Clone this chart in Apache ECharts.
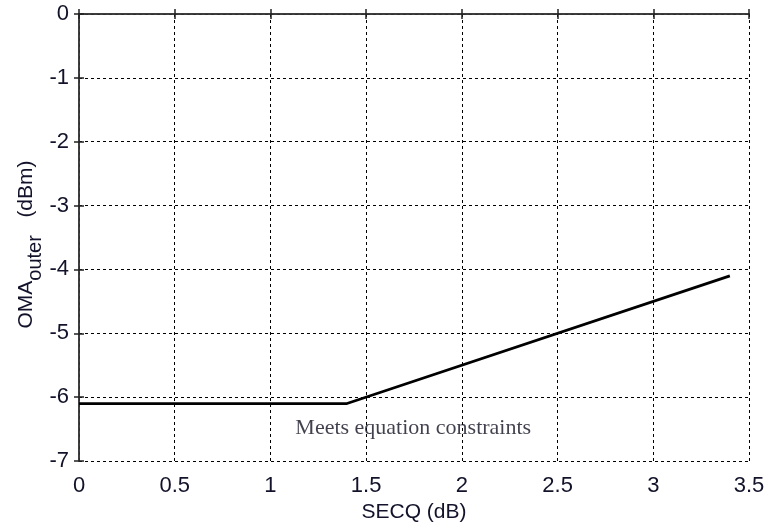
<!DOCTYPE html>
<html>
<head>
<meta charset="utf-8">
<script src="https://cdn.jsdelivr.net/npm/echarts@6/dist/echarts.min.js"></script>
<style>html,body{margin:0;padding:0;background:#fff;}#c{width:769px;height:523px;}</style>
</head>
<body>
<div id="c"></div>
<script>
var lineX = [0, 1.4, 3.4];
var lineY = [-6.1, -6.1, -4.1];
var xTicks = [0, 0.5, 1, 1.5, 2, 2.5, 3, 3.5];
var yTicks = [-7, -6, -5, -4, -3, -2, -1, 0];
var noteText = 'Meets equation constraints';
var notePos = [1.13, -6.49];

var chart = echarts.init(document.getElementById('c'));
var labelColor = '#12122a';
var gridLine = {show: true, lineStyle: {color: '#000', width: 1, type: [3, 3]}};
var axLine = {show: true, lineStyle: {color: '#333', width: 1.5}};
var tick = {show: true, inside: true, length: 5, lineStyle: {color: '#222', width: 1.5}};
chart.setOption({
  animation: false,
  grid: {left: 79, right: 20, top: 14, bottom: 62, containLabel: false, outerBoundsMode: 'none'},
  xAxis: [{
    type: 'value', min: xTicks[0], max: xTicks[xTicks.length - 1], interval: 0.5,
    axisLine: axLine, axisTick: tick, splitLine: gridLine,
    axisLabel: {color: labelColor, fontFamily: 'Liberation Sans, Arial', fontSize: 22, margin: 14},
    name: 'SECQ (dB)', nameLocation: 'middle', nameGap: 41, nameMoveOverlap: false,
    nameTextStyle: {color: labelColor, fontFamily: 'Liberation Sans, Arial', fontSize: 21}
  }, {
    type: 'value', position: 'top', min: xTicks[0], max: xTicks[xTicks.length - 1], interval: 0.5,
    axisLine: axLine, axisTick: tick, splitLine: {show: false}, axisLabel: {show: false}
  }],
  yAxis: [{
    type: 'value', min: yTicks[0], max: yTicks[yTicks.length - 1], interval: 1,
    axisLine: axLine, axisTick: tick, splitLine: gridLine,
    axisLabel: {color: labelColor, fontFamily: 'Liberation Sans, Arial', fontSize: 22, margin: 10},
    name: '{a|OMA}{s|outer}{a|   (dBm)}', nameLocation: 'middle', nameGap: 42, nameMoveOverlap: false,
    nameTextStyle: {
      color: labelColor,
      padding: [0, 14, 0, 0],
      rich: {
        a: {fontFamily: 'Liberation Sans, Arial', fontSize: 21, color: labelColor},
        s: {fontFamily: 'Liberation Sans, Arial', fontSize: 20, color: labelColor, verticalAlign: 'bottom', padding: [0, 0, -8, 0]}
      }
    }
  }, {
    type: 'value', position: 'right', min: yTicks[0], max: yTicks[yTicks.length - 1], interval: 1,
    axisLine: axLine, axisTick: tick, splitLine: {show: false}, axisLabel: {show: false}
  }],
  series: [{
    type: 'line', data: lineX.map(function (x, i) { return [x, lineY[i]]; }),
    showSymbol: false, symbol: 'none', lineStyle: {color: '#000', width: 2.8}, z: 5
  }, {
    type: 'scatter', data: [notePos], symbolSize: 0, silent: true,
    label: {show: true, position: 'right', distance: 0, formatter: noteText,
      fontFamily: 'Liberation Serif, Times New Roman', fontSize: 22, color: '#111122'}
  }]
});
</script>
</body>
</html>
